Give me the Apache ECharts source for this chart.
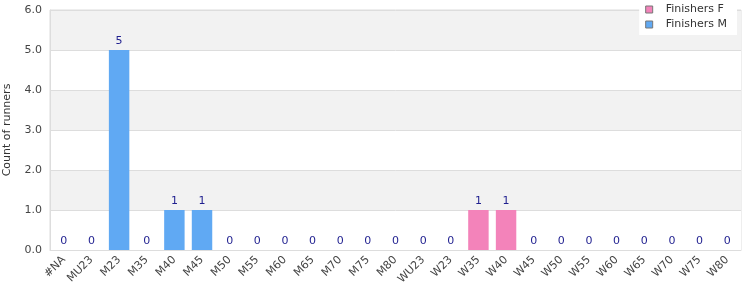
<!DOCTYPE html>
<html><head><meta charset="utf-8">
<script src="https://cdn.jsdelivr.net/npm/echarts@6/dist/echarts.min.js"></script>
<style>html,body{margin:0;padding:0;background:#fff}#c{width:750px;height:300px}</style>
</head><body><div id="c"></div>
<script>
const categories = ['#NA','MU23','M23','M35','M40','M45','M50','M55','M60','M65','M70','M75','M80','WU23','W23','W35','W40','W45','W50','W55','W60','W65','W70','W75','W80'];
const finishersF = [null,null,null,null,null,null,null,null,null,null,null,null,null,0,0,1,1,0,0,0,0,0,0,0,0];
const finishersM = [0,0,5,0,1,1,0,0,0,0,0,0,0,null,null,null,null,null,null,null,null,null,null,null,null];
const yTicks = [0,1,2,3,4,5,6];

const chart = echarts.init(document.getElementById('c'));
const lbl = {show:true, position:'top', color:'#1f1f8f', fontSize:11, fontFamily:'DejaVu Sans', distance:3};
chart.setOption({
  animation:false,
  textStyle:{fontFamily:'DejaVu Sans'},
  grid:{left:50, right:9, top:10, bottom:50, show:true, borderColor:'#dddddd', borderWidth:1, outerBoundsMode:'none', containLabel:false},
  legend:{
    right:13, top:1, orient:'vertical', itemWidth:7, itemHeight:7, itemGap:2, icon:'rect',
    backgroundColor:'#ffffff', padding:[2,10,4,6],
    textStyle:{fontSize:11, color:'#333', fontFamily:'DejaVu Sans', padding:[0,0,0,8], lineHeight:13},
    data:[{name:'Finishers F', itemStyle:{borderColor:'#777', borderWidth:1}},{name:'Finishers M', itemStyle:{borderColor:'#777', borderWidth:1}}]
  },
  xAxis:{
    type:'category', data:categories,
    axisLine:{lineStyle:{color:'#dddddd'}}, axisTick:{show:false},
    axisLabel:{rotate:45, interval:0, fontSize:11, color:'#444', margin:8}
  },
  yAxis:{
    type:'value', min:0, max:6, interval:1,
    name:'Count of runners', nameLocation:'middle', nameGap:37, nameRotate:90,
    nameTextStyle:{fontSize:11, color:'#333'},
    axisLine:{show:true, lineStyle:{color:'#dddddd'}}, axisTick:{show:false},
    axisLabel:{fontSize:11, color:'#444', formatter:v=>v.toFixed(1)},
    splitLine:{lineStyle:{color:'#dddddd'}},
    splitArea:{show:true, areaStyle:{color:['#ffffff','#f2f2f2']}}
  },
  series:[
    {name:'Finishers F', type:'bar', stack:'a', data:finishersF, barCategoryGap:'26%', itemStyle:{color:'#f383ba'}, label:lbl},
    {name:'Finishers M', type:'bar', stack:'a', data:finishersM, barCategoryGap:'26%', itemStyle:{color:'#60a9f3'}, label:lbl}
  ]
});
</script></body></html>
